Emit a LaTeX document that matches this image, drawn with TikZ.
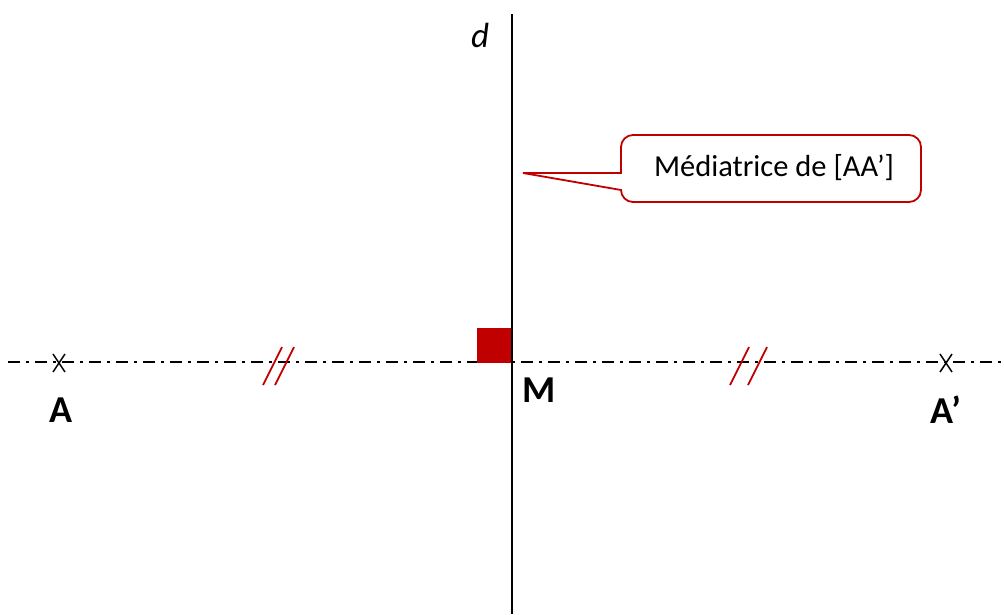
\documentclass[tikz,border=0pt]{standalone}
\usepackage{fontspec}
\setmainfont{Carlito}
\usetikzlibrary{calc}
\definecolor{darkred}{RGB}{192,0,0}
\begin{document}
\begin{tikzpicture}[x=1pt,y=-1pt,
  axis/.style={line width=1.6pt,dash pattern=on 12pt off 6pt on 3pt off 6pt},
  perp/.style={line width=2.2pt},
  tick/.style={darkred,line width=1.8pt},
  cross/.style={line width=1.5pt},
  ptlabel/.style={font=\fontsize{38}{42}\selectfont\bfseries,inner sep=0pt},
  callout/.style={darkred,line width=1.8pt}]
\useasboundingbox (0,0) rectangle (1004,614);
% axis
\coordinate (L) at (8,362);
\coordinate (R) at (1004,362);
\draw[axis] (L) -- (R);
% perpendicular bisector
\coordinate (top) at (512,14);
\coordinate (bot) at (512,614);
\fill[darkred] (477,328) rectangle (511,363);
\draw[perp] (top) -- (bot);
\node[font=\fontsize{35}{40}\selectfont\itshape,inner sep=0pt] (d) at (480,35) {d};
% points
\coordinate (A) at (59,363);
\coordinate (Ap) at (946,363);
\draw[cross] ($(A)+(-6,-9)$) -- ($(A)+(6,9)$) ($(A)+(6,-9)$) -- ($(A)+(-6,9)$);
\draw[cross] ($(Ap)+(-6,-9)$) -- ($(Ap)+(6,9)$) ($(Ap)+(6,-9)$) -- ($(Ap)+(-6,9)$);
\node[ptlabel] (lA) at (61,410) {A};
\node[ptlabel] (lAp) at (946,410) {A’};
\node[ptlabel] (lM) at (539,390) {M};
% ticks
\coordinate (t1) at (278,366);
\coordinate (t2) at (748,366);
\draw[tick] ($(t1)+(-15,19)$) -- ($(t1)+(4,-19)$);
\draw[tick] ($(t1)+(-3,19)$) -- ($(t1)+(16,-19)$);
\draw[tick] ($(t2)+(-18,19)$) -- ($(t2)+(1,-19)$);
\draw[tick] ($(t2)+(0,19)$) -- ($(t2)+(19,-19)$);
% callout
\node[font=\fontsize{30.5}{34}\selectfont,inner sep=0pt] (txt) at (774,168) {Médiatrice de [AA’]};
\coordinate (tip) at (523,173);
\draw[callout] (tip) -- (621,173) [rounded corners=12pt] -- (621,135) -- (921,135) -- (921,202) -- (621,202) [sharp corners] -- (621,190) -- (tip) -- cycle;
\end{tikzpicture}
\end{document}
